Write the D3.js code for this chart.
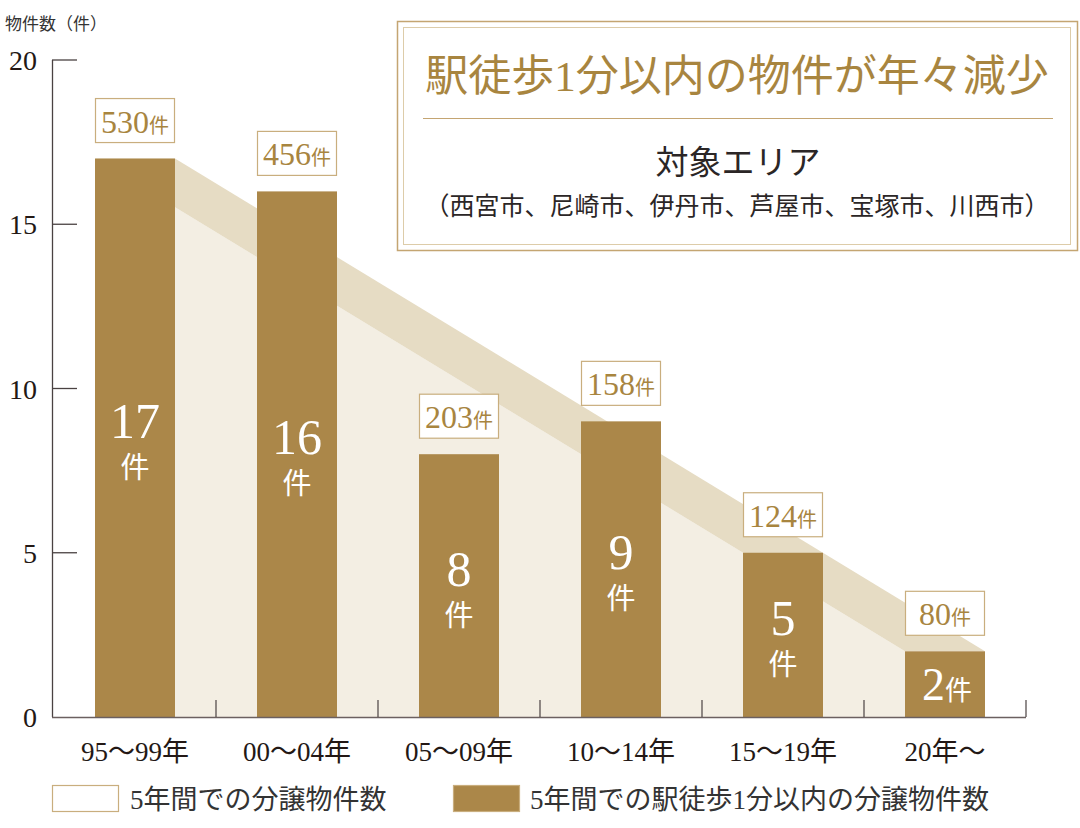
<!DOCTYPE html>
<html>
<head>
<meta charset="utf-8">
<script src="https://cdn.jsdelivr.net/npm/d3@7"></script>
<style>
  body { margin: 0; background: #fff; }
  svg { display: block; }
</style>
</head>
<body>
<div id="chart"></div>
<script>
// data
var categories = ["95〜99年", "00〜04年", "05〜09年", "10〜14年", "15〜19年", "20年〜"];
var nearStation = [17, 16, 8, 9, 5, 2];      // 駅徒歩1分以内の分譲物件数
var totalUnits = [530, 456, 203, 158, 124, 80]; // 5年間での分譲物件数
var yTicks = [0, 5, 10, 15, 20];

var W = 1080, H = 828;
var FONT = "'Times New Roman', 'Liberation Serif', 'DejaVu Serif', 'Noto Sans CJK JP'";
var GOLD = "#ab8749";
var GOLD_TEXT = "#a8853f";
var STRIPE = "#e6dcc4";
var CREAM = "#f3eee3";
var BOXLINE = "#c9ae7e";
var AXIS = "#4a4242";

var svg = d3.select("#chart").append("svg")
    .attr("width", W)
    .attr("height", H);

var x = d3.scaleBand().domain(categories).range([54, 1026]).padding(0);
var y = d3.scaleLinear().domain([0, 20]).range([717, 60]);
var bw = 80;
function barX(c) { return x(c) + (x.bandwidth() - bw) / 2; }

var first = categories[0], last = categories[categories.length - 1];
var v0 = nearStation[0], v1 = nearStation[nearStation.length - 1];

// cream area under the trend stripe
svg.append("polygon")
    .attr("fill", CREAM)
    .attr("points", [
        [barX(first), y(v0)], [barX(last), y(v1)],
        [barX(last), y(0)], [barX(first), y(0)]
    ].join(" "));

// trend stripe from first bar top to last bar top
svg.append("polygon")
    .attr("fill", STRIPE)
    .attr("points", [
        [barX(first), y(v0)], [barX(first) + bw, y(v0)],
        [barX(last) + bw, y(v1)], [barX(last), y(v1)]
    ].join(" "));

// bars
svg.append("g").selectAll("rect")
    .data(nearStation)
    .enter().append("rect")
    .attr("x", function(d, i) { return barX(categories[i]); })
    .attr("y", function(d) { return y(d); })
    .attr("width", bw)
    .attr("height", function(d) { return y(0) - y(d); })
    .attr("fill", GOLD);

// value labels inside the bars
nearStation.forEach(function(d, i) {
    var cx = barX(categories[i]) + bw / 2;
    var mid = (y(d) + y(0)) / 2;
    if (i === nearStation.length - 1) {
        var t = svg.append("text")
            .attr("x", cx + 2).attr("y", mid + 16)
            .attr("text-anchor", "middle")
            .attr("fill", "#fff")
            .style("font-family", FONT);
        t.append("tspan").attr("font-size", 46).text(d);
        t.append("tspan").attr("font-size", 27).text("件");
    } else {
        svg.append("text")
            .attr("x", cx).attr("y", mid)
            .attr("text-anchor", "middle")
            .attr("fill", "#fff")
            .attr("font-size", 50)
            .style("font-family", FONT)
            .text(d);
        svg.append("text")
            .attr("x", cx).attr("y", mid + 40)
            .attr("text-anchor", "middle")
            .attr("fill", "#fff")
            .attr("font-size", 29)
            .style("font-family", FONT)
            .text("件");
    }
});

// total unit boxes above the bars
totalUnits.forEach(function(d, i) {
    var bx = barX(categories[i]);
    var bottom = y(nearStation[i]) - 16;
    svg.append("rect")
        .attr("x", bx + 0.5).attr("y", bottom - 44)
        .attr("width", bw - 1).attr("height", 44)
        .attr("fill", "#fff")
        .attr("stroke", BOXLINE)
        .attr("stroke-width", 1.2);
    var t = svg.append("text")
        .attr("x", bx + bw / 2).attr("y", bottom - 10)
        .attr("text-anchor", "middle")
        .attr("fill", GOLD_TEXT)
        .style("font-family", FONT);
    t.append("tspan").attr("font-size", 32).text(d);
    t.append("tspan").attr("font-size", 20).text("件");
});

// y axis
svg.append("line")
    .attr("x1", 52.5).attr("x2", 52.5)
    .attr("y1", y(20)).attr("y2", y(0))
    .attr("stroke", AXIS).attr("stroke-width", 1.3);
svg.append("g").selectAll("line")
    .data(yTicks.filter(function(d) { return d > 0; }))
    .enter().append("line")
    .attr("x1", 52).attr("x2", 77)
    .attr("y1", function(d) { return y(d); })
    .attr("y2", function(d) { return y(d); })
    .attr("stroke", AXIS).attr("stroke-width", 1.3);
svg.append("g").selectAll("text")
    .data(yTicks)
    .enter().append("text")
    .attr("x", 37)
    .attr("y", function(d) { return y(d); })
    .attr("dy", "0.36em")
    .attr("text-anchor", "end")
    .attr("font-size", 28)
    .attr("fill", "#231815")
    .style("font-family", FONT)
    .text(function(d) { return d; });

svg.append("text")
    .attr("x", 5).attr("y", 30)
    .attr("font-size", 17)
    .attr("fill", "#333")
    .style("font-family", FONT)
    .text("物件数（件）");

// x axis
svg.append("line")
    .attr("x1", 52).attr("x2", x.range()[1])
    .attr("y1", y(0) + 0.5).attr("y2", y(0) + 0.5)
    .attr("stroke", "#6b6060").attr("stroke-width", 1.5);
svg.append("g").selectAll("line")
    .data(categories)
    .enter().append("line")
    .attr("x1", function(c) { return x(c) + x.bandwidth(); })
    .attr("x2", function(c) { return x(c) + x.bandwidth(); })
    .attr("y1", y(0)).attr("y2", y(0) - 17)
    .attr("stroke", AXIS).attr("stroke-width", 1.2);
svg.append("g").selectAll("text")
    .data(categories)
    .enter().append("text")
    .attr("x", function(c) { return x(c) + x.bandwidth() / 2; })
    .attr("y", 761)
    .attr("text-anchor", "middle")
    .attr("font-size", 27)
    .attr("fill", "#231815")
    .style("font-family", FONT)
    .text(function(c) { return c; });

// legend
var legend = [
    { label: "5年間での分譲物件数", fill: "#fff", x: 52, tx: 130 },
    { label: "5年間での駅徒歩1分以内の分譲物件数", fill: GOLD, x: 453, tx: 530 }
];
legend.forEach(function(l) {
    svg.append("rect")
        .attr("x", l.x + 0.5).attr("y", 785.5)
        .attr("width", 66).attr("height", 26)
        .attr("fill", l.fill)
        .attr("stroke", BOXLINE).attr("stroke-width", 1.2);
    svg.append("text")
        .attr("x", l.tx).attr("y", 809)
        .attr("font-size", 27)
        .attr("fill", "#333")
        .style("font-family", FONT)
        .text(l.label);
});

// title box
svg.append("rect")
    .attr("x", 397.5).attr("y", 21.5).attr("width", 680).attr("height", 229)
    .attr("fill", "#fff").attr("stroke", "#c4a572").attr("stroke-width", 1.5);
svg.append("rect")
    .attr("x", 403.5).attr("y", 27.5).attr("width", 667).attr("height", 217)
    .attr("fill", "none").attr("stroke", "#ddcca9").attr("stroke-width", 1);
svg.append("text")
    .attr("x", 737).attr("y", 91)
    .attr("text-anchor", "middle")
    .attr("font-size", 43)
    .attr("fill", GOLD_TEXT)
    .style("font-family", FONT)
    .text("駅徒歩1分以内の物件が年々減少");
svg.append("line")
    .attr("x1", 423).attr("x2", 1053)
    .attr("y1", 118.5).attr("y2", 118.5)
    .attr("stroke", "#c4a572").attr("stroke-width", 1.2);
svg.append("text")
    .attr("x", 738).attr("y", 174)
    .attr("text-anchor", "middle")
    .attr("font-size", 33)
    .attr("fill", "#2b2626")
    .style("font-family", FONT)
    .text("対象エリア");
svg.append("text")
    .attr("x", 737).attr("y", 215)
    .attr("text-anchor", "middle")
    .attr("font-size", 25)
    .attr("fill", "#2b2626")
    .style("font-family", FONT)
    .text("（西宮市、尼崎市、伊丹市、芦屋市、宝塚市、川西市）");
</script>
</body>
</html>
